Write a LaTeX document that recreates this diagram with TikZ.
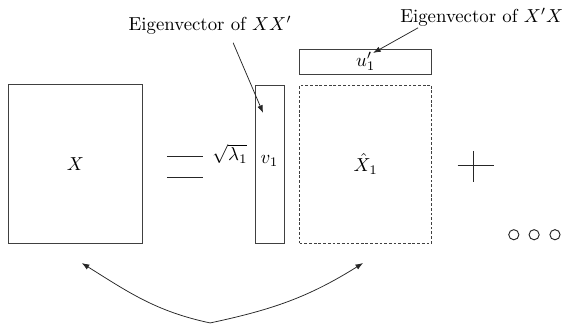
\documentclass[tikz,border=0pt]{standalone}
\usepackage{amsmath,amssymb}
\usetikzlibrary{arrows.meta,positioning,calc}

\begin{document}
\begin{tikzpicture}[
    mat/.style={draw=black!75, minimum width=2.49cm, minimum height=2.97cm, inner sep=0pt},
    vec/.style={draw=black!75, minimum width=0.54cm, minimum height=2.95cm, inner sep=0pt},
    row/.style={draw=black!75, minimum width=2.47cm, minimum height=0.47cm, inner sep=0pt},
    arr/.style={-{Latex[length=4pt,width=3pt]}, black!85},
    sym/.style={black!85, line width=0.5pt},
    lbl/.style={font=\normalsize}
]
\useasboundingbox (0,0) rectangle (10.53,-6.06);

\node[mat] (xmat) at (1.41,-3.06) {$X$};
\draw[sym] (3.12,-2.92) -- (3.80,-2.92);
\draw[sym] (3.12,-3.31) -- (3.80,-3.31);
\node[lbl] (lam) at (4.30,-2.88) {$\sqrt{\lambda_1}$};
\node[vec] (vvec) at (5.04,-3.07) {\raisebox{0.17cm}{$v_1$}};
\node[mat, dash pattern=on 1.5pt off 1pt, minimum width=2.47cm, minimum height=2.95cm] (xhat) at (6.84,-3.07) {\raisebox{0.05cm}{$\hat{X}_1$}};
\node[row] (uvec) at (6.84,-1.15) {$u_1'$};

% plus and dots
\draw[sym] (8.56,-3.10) -- (9.24,-3.10);
\draw[sym] (8.85,-2.82) -- (8.85,-3.40);
\foreach \x in {9.61,9.99,10.38}
    \draw[sym] (\x,-4.39) circle (0.095);

% labels
\node[lbl] (eigxx) at (3.93,-0.47) {Eigenvector of $XX'$};
\node[lbl] (eigux) at (9.01,-0.32) {Eigenvector of $X'X$};
\coordinate (pv) at (4.92,-2.11);
\coordinate (pu) at (6.98,-0.99);
\draw[arr] (4.36,-0.80) -- (pv);
\draw[arr] (7.82,-0.52) -- (pu);

% bottom
\coordinate (bot) at (3.93,-6.04);
\coordinate (lft) at (1.53,-4.92);
\coordinate (rgt) at (6.79,-4.92);
\draw[arr] (bot) to[out=168,in=-32] (lft);
\draw[arr] (bot) to[out=12,in=-148] (rgt);
\end{tikzpicture}
\end{document}
